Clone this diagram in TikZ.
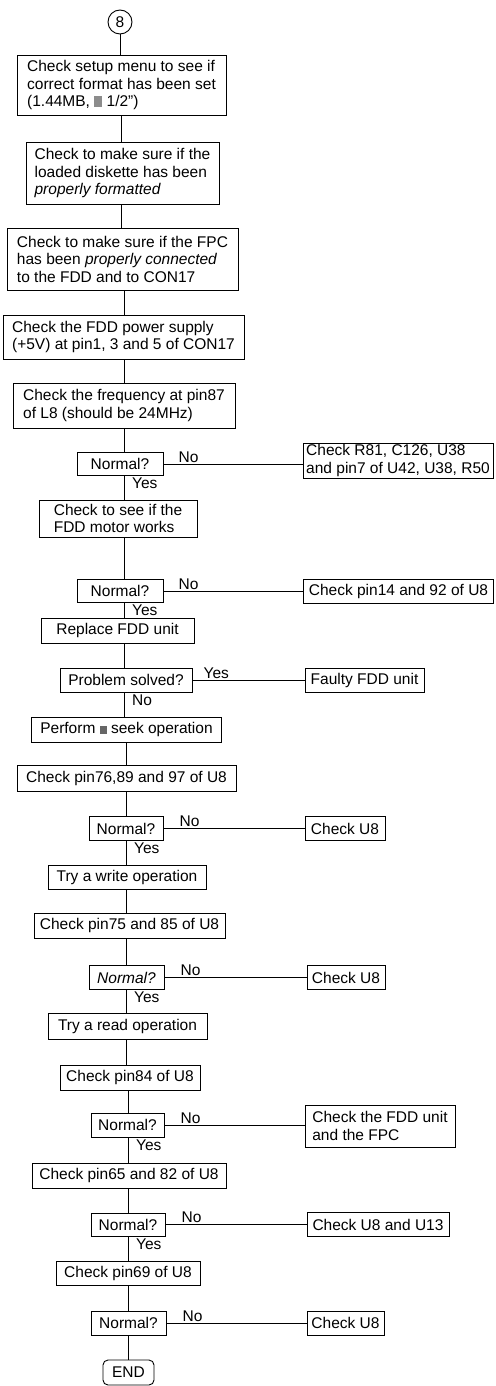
\documentclass[tikz,border=0pt]{standalone}
\usepackage{fontspec}
\setmainfont{Liberation Sans}
\newcommand{\blkA}{{\color{black!45}\rule[0pt]{8pt}{11pt}}}
\newcommand{\blkB}{{\color{black!60}\rule[0pt]{7pt}{8pt}}}
\begin{document}
\begin{tikzpicture}[x=1pt,y=1pt,
  every node/.style={font=\fontsize{15.5}{17.5}\selectfont},
  box/.style={draw, line width=0.9pt, inner xsep=2pt, inner ysep=1pt, align=left},
  lbl/.style={inner sep=1pt},
  conn/.style={line width=0.9pt}]
\useasboundingbox (0,0) rectangle (495,-1386);
\coordinate (tA) at (121,0);
\coordinate (tB) at (124,0);
\coordinate (tC) at (126,0);
\coordinate (tD) at (128,0);

\node[circle, draw, line width=0.9pt, minimum size=24pt, inner sep=0pt] (c8) at (120,-22) {8};
\node[box, minimum width=209pt, minimum height=60pt] (b1) at (121.5,-85) {Check setup menu to see if\\correct format has been set\\(1.44MB, \blkA\ 1/2")};
\node[box, minimum width=193pt, minimum height=62pt] (b2) at (122.5,-173) {Check to make sure if the\\loaded diskette has been\\\textit{properly formatted}};
\node[box, minimum width=231pt, minimum height=62pt] (b3) at (122.5,-259) {Check to make sure if the FPC\\has been \textit{properly connected}\\to the FDD and to CON17};
\node[box, minimum width=241pt, minimum height=44pt] (b4) at (123.5,-337) {Check the FDD power supply\\(+5V) at pin1, 3 and 5 of CON17};
\node[box, minimum width=222pt, minimum height=45pt] (b5) at (124,-405.5) {Check the frequency at pin87\\of L8 (should be 24MHz)};
\node[box, minimum width=86pt, minimum height=23pt] (n1) at (120,-464) {Normal?};
\node[box, minimum width=190pt, minimum height=35pt] (r1) at (398,-460.5) {Check R81, C126, U38\\and pin7 of U42, U38, R50};
\node[box, minimum width=158pt, minimum height=37pt] (b6) at (118,-518.5) {Check to see if the\\FDD motor works};
\node[box, minimum width=86pt, minimum height=23pt] (n2) at (120,-591) {Normal?};
\node[box, minimum width=190pt, minimum height=24pt] (r2) at (398.5,-591) {Check pin14 and 92 of U8};
\node[box, minimum width=153pt, minimum height=25pt] (b7) at (117.5,-630.5) {Replace FDD unit};
\node[box, minimum width=132pt, minimum height=24pt] (n3) at (126,-680) {Problem solved?};
\node[box, minimum width=119pt, minimum height=24pt] (r3) at (364.5,-680) {Faulty FDD unit};
\node[box, minimum width=190pt, minimum height=25pt] (b8) at (126.5,-729.5) {Perform \blkB\ seek operation};
\node[box, minimum width=219pt, minimum height=26pt] (b9) at (126.5,-778) {Check pin76,89 and 97 of U8};
\node[box, minimum width=74pt, minimum height=24pt] (n4) at (126,-828.5) {Normal?};
\node[box, minimum width=80pt, minimum height=24pt] (r4) at (345,-828.5) {Check U8};
\node[box, minimum width=158pt, minimum height=24pt] (b10) at (127,-877) {Try a write operation};
\node[box, minimum width=191pt, minimum height=25pt] (b11) at (129.5,-925.5) {Check pin75 and 85 of U8};
\node[box, minimum width=75pt, minimum height=24pt] (n5) at (126.5,-977.5) {\textit{Normal?}};
\node[box, minimum width=78pt, minimum height=24pt] (r5) at (346,-977.5) {Check U8};
\node[box, minimum width=159pt, minimum height=26pt] (b12) at (127.5,-1026) {Try a read operation};
\node[box, minimum width=140pt, minimum height=25pt] (b13) at (130,-1077.5) {Check pin84 of U8};
\node[box, minimum width=73pt, minimum height=24pt] (n6) at (127.5,-1125) {Normal?};
\node[box, minimum width=150pt, minimum height=42pt] (r6) at (380,-1126) {Check the FDD unit\\and the FPC};
\node[box, minimum width=194pt, minimum height=25pt] (b14) at (129,-1175.5) {Check pin65 and 82 of U8};
\node[box, minimum width=74pt, minimum height=23pt] (n7) at (128,-1224.5) {Normal?};
\node[box, minimum width=142pt, minimum height=24pt] (r7) at (378,-1224.5) {Check U8 and U13};
\node[box, minimum width=144pt, minimum height=24pt] (b15) at (128,-1273) {Check pin69 of U8};
\node[box, minimum width=75pt, minimum height=24pt] (n8) at (128.5,-1323) {Normal?};
\node[box, minimum width=77pt, minimum height=24pt] (r8) at (345.5,-1323) {Check U8};
\node[box, rounded corners=5pt, minimum width=51pt, minimum height=25pt] (end) at (128.5,-1372.5) {END};

% trunk
\draw[conn] (c8.south) -- (c8.south |- b1.north);
\draw[conn] (b1.south -| tA) -- (b2.north -| tA);
\draw[conn] (b2.south -| tA) -- (b3.north -| tA);
\draw[conn] (b3.south -| tB) -- (b4.north -| tB);
\draw[conn] (b4.south -| tB) -- (b5.north -| tB);
\draw[conn] (b5.south -| tB) -- (n1.north -| tB);
\draw[conn] (n1.south -| tB) -- (b6.north -| tB);
\draw[conn] (b6.south -| tB) -- (n2.north -| tB);
\draw[conn] (n2.south -| tB) -- (b7.north -| tB);
\draw[conn] (b7.south -| tB) -- (n3.north -| tB);
\draw[conn] (n3.south -| tB) -- (b8.north -| tB);
\draw[conn] (b8.south -| tC) -- (b9.north -| tC);
\draw[conn] (b9.south -| tC) -- (n4.north -| tC);
\draw[conn] (n4.south -| tC) -- (b10.north -| tC);
\draw[conn] (b10.south -| tC) -- (b11.north -| tC);
\draw[conn] (b11.south -| tC) -- (n5.north -| tC);
\draw[conn] (n5.south -| tC) -- (b12.north -| tC);
\draw[conn] (b12.south -| tC) -- (b13.north -| tC);
\draw[conn] (b13.south -| tD) -- (n6.north -| tD);
\draw[conn] (n6.south -| tD) -- (b14.north -| tD);
\draw[conn] (b14.south -| tD) -- (n7.north -| tD);
\draw[conn] (n7.south -| tD) -- (b15.north -| tD);
\draw[conn] (b15.south -| tD) -- (n8.north -| tD);
\draw[conn] (n8.south -| tD) -- (end.north -| tD);

% side branches
\draw[conn] (n1.east) -- (n1.east -| r1.west);
\draw[conn] (n2.east) -- (n2.east -| r2.west);
\draw[conn] (n3.east) -- (n3.east -| r3.west);
\draw[conn] (n4.east) -- (n4.east -| r4.west);
\draw[conn] (n5.east) -- (n5.east -| r5.west);
\draw[conn] (n6.east) -- (n6.east -| r6.west);
\draw[conn] (n7.east) -- (n7.east -| r7.west);
\draw[conn] (n8.east) -- (n8.east -| r8.west);

% labels
\path (n1.east) ++(14,0.5) node[lbl, anchor=south west] (no1) {No};
\path (n2.east) ++(14,0.5) node[lbl, anchor=south west] (no2) {No};
\path (n3.east) ++(10,0.5) node[lbl, anchor=south west] (yes3) {Yes};
\path (n4.east) ++(15,0.5) node[lbl, anchor=south west] (no4) {No};
\path (n5.east) ++(15,0.5) node[lbl, anchor=south west] (no5) {No};
\path (n6.east) ++(15,0.5) node[lbl, anchor=south west] (no6) {No};
\path (n7.east) ++(15,0.5) node[lbl, anchor=south west] (no7) {No};
\path (n8.east) ++(15,0.5) node[lbl, anchor=south west] (no8) {No};

\path (n1.south -| tB) ++(7,-1) node[lbl, anchor=north west] (yes1) {Yes};
\path (n2.south -| tB) ++(7,-1) node[lbl, anchor=north west] (yes2) {Yes};
\path (n3.south -| tB) ++(7,-1) node[lbl, anchor=north west] (no3) {No};
\path (n4.south -| tC) ++(7,-1) node[lbl, anchor=north west] (yes4) {Yes};
\path (n5.south -| tC) ++(7,-1) node[lbl, anchor=north west] (yes5) {Yes};
\path (n6.south -| tD) ++(7,-1) node[lbl, anchor=north west] (yes6) {Yes};
\path (n7.south -| tD) ++(7,-1) node[lbl, anchor=north west] (yes7) {Yes};
\end{tikzpicture}
\end{document}
